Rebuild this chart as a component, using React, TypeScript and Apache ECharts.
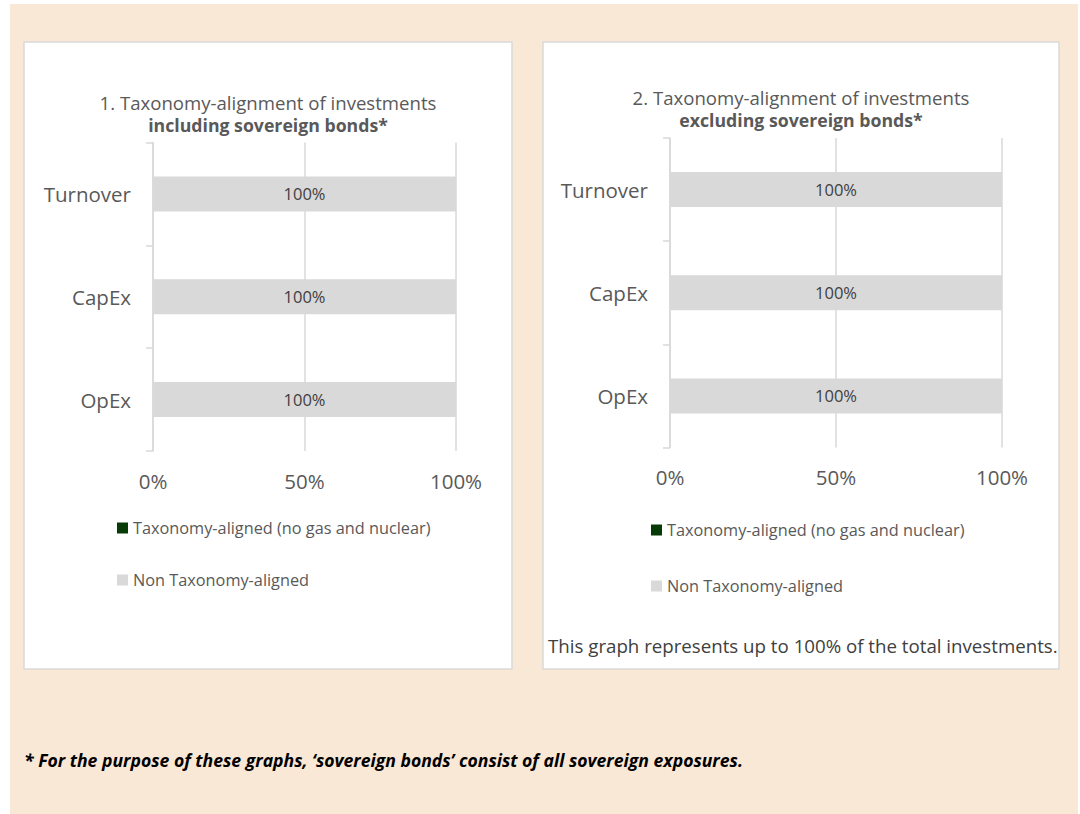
import React, { useEffect, useRef } from "react";
import * as echarts from "echarts";

const categories = ["Turnover", "CapEx", "OpEx"];
const seriesNames = ["Taxonomy-aligned (no gas and nuclear)", "Non Taxonomy-aligned"];
const alignedIncl = [0, 0, 0];
const nonAlignedIncl = [100, 100, 100];
const alignedExcl = [0, 0, 0];
const nonAlignedExcl = [100, 100, 100];
const xMin = 0;
const xMax = 100;
const xInterval = 50;

const FONT = "'Open Sans', 'Noto Sans', sans-serif";
const TXT = "#595959";
const GRID = "#D9D9D9";
const GREEN = "#063A06";
const GREY = "#D9D9D9";
const BEIGE = "#FAE8D7";

function makeX(idx: number) {
  return {
    type: "value",
    gridIndex: idx,
    min: xMin,
    max: xMax,
    interval: xInterval,
    axisLine: { show: false },
    axisTick: { show: false },
    splitLine: { show: true, lineStyle: { color: GRID, width: 1.5 } },
    axisLabel: { formatter: "{value}%", color: TXT, fontSize: 20.5, fontFamily: FONT, margin: 19 },
  };
}

function makeY(idx: number) {
  return {
    type: "category",
    gridIndex: idx,
    data: categories,
    inverse: true,
    axisLine: { show: true, lineStyle: { color: GRID, width: 1.5 } },
    axisTick: { show: true, length: 7, lineStyle: { color: GRID, width: 1.5 } },
    axisLabel: { color: TXT, fontSize: 20.5, fontFamily: FONT, margin: 22 },
  };
}

function makeSeries(idx: number, aligned: number[], non: number[]) {
  return [
    {
      name: seriesNames[0],
      type: "bar",
      stack: "s" + idx,
      xAxisIndex: idx,
      yAxisIndex: idx,
      data: aligned,
      barWidth: "34%",
      itemStyle: { color: GREEN },
      label: { show: false },
    },
    {
      name: seriesNames[1],
      type: "bar",
      stack: "s" + idx,
      xAxisIndex: idx,
      yAxisIndex: idx,
      data: non,
      barWidth: "34%",
      itemStyle: { color: GREY },
      label: {
        show: true,
        position: "inside",
        formatter: "{c}%",
        color: "#404040",
        fontSize: 16.5,
        fontFamily: FONT,
      },
    },
  ];
}

function legend(left: number, top: number, gap: number) {
  return {
    orient: "vertical",
    left,
    top,
    padding: 0,
    data: seriesNames,
    icon: "rect",
    itemWidth: 11,
    itemHeight: 11,
    itemGap: gap,
    selectedMode: false,
    textStyle: { color: TXT, fontSize: 16.3, fontFamily: FONT, lineHeight: 18 },
  };
}

export default function App() {
  const ref = useRef<HTMLDivElement>(null);
  useEffect(() => {
    if (!ref.current) return;
    const chart = echarts.init(ref.current, null, { renderer: "svg" });
    chart.setOption({
      animation: false,
      backgroundColor: "#FFFFFF",
      graphic: [
        { type: "rect", z: -10, shape: { x: 10, y: 4, width: 1068, height: 810 }, style: { fill: BEIGE } },
        { type: "rect", z: -9, shape: { x: 24, y: 42, width: 488, height: 627 }, style: { fill: "#FFFFFF", stroke: GRID, lineWidth: 1.5 } },
        { type: "rect", z: -9, shape: { x: 543, y: 42, width: 516, height: 627 }, style: { fill: "#FFFFFF", stroke: GRID, lineWidth: 1.5 } },
        { type: "text", x: 268, y: 102, style: { text: "1. Taxonomy-alignment of investments", fill: TXT, font: `18.6px ${FONT}`, textAlign: "center", textVerticalAlign: "middle" } },
        { type: "text", x: 268, y: 125, style: { text: "including sovereign bonds*", fill: TXT, font: `bold 17.7px ${FONT}`, textAlign: "center", textVerticalAlign: "middle" } },
        { type: "text", x: 801, y: 97, style: { text: "2. Taxonomy-alignment of investments", fill: TXT, font: `18.6px ${FONT}`, textAlign: "center", textVerticalAlign: "middle" } },
        { type: "text", x: 801, y: 120, style: { text: "excluding sovereign bonds*", fill: TXT, font: `bold 17.7px ${FONT}`, textAlign: "center", textVerticalAlign: "middle" } },
        { type: "text", x: 548, y: 645, style: { text: "This graph represents up to 100% of the total investments.", fill: "#404040", font: `18.7px ${FONT}`, textAlign: "left", textVerticalAlign: "middle" } },
        { type: "text", x: 24, y: 760, style: { text: "* For the purpose of these graphs, \u2018sovereign bonds\u2019 consist of all sovereign exposures.", fill: "#000000", font: `italic bold 17.6px ${FONT}`, textAlign: "left", textVerticalAlign: "middle" } },
      ],
      grid: [
        { left: 153, top: 142.5, width: 303, height: 308.5 },
        { left: 670, top: 138, width: 332, height: 309.5 },
      ],
      xAxis: [makeX(0), makeX(1)],
      yAxis: [makeY(0), makeY(1)],
      legend: [legend(117, 519, 34), legend(651, 521, 38)],
      series: [...makeSeries(0, alignedIncl, nonAlignedIncl), ...makeSeries(1, alignedExcl, nonAlignedExcl)],
    });
    return () => chart.dispose();
  }, []);
  return <div ref={ref} style={{ position: "absolute", left: 0, top: 0, width: 1080, height: 814 }} />;
}
